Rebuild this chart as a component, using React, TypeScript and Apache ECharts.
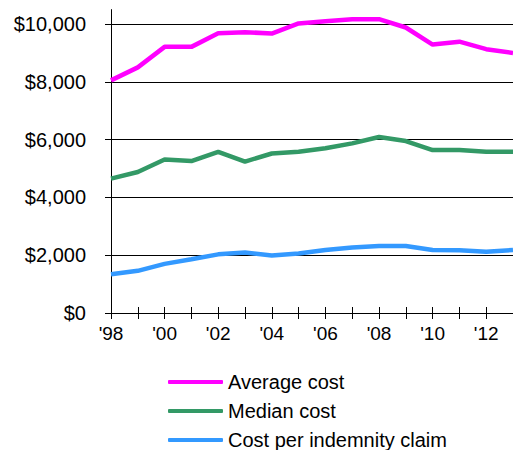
import React, { useEffect, useRef } from "react";
import * as echarts from "echarts";

const years = ["'98", "'99", "'00", "'01", "'02", "'03", "'04", "'05", "'06", "'07", "'08", "'09", "'10", "'11", "'12", "'13"];
const averageCost = [8050, 8500, 9210, 9210, 9680, 9720, 9670, 10020, 10100, 10170, 10170, 9880, 9290, 9390, 9130, 9000];
const medianCost = [4650, 4880, 5310, 5260, 5580, 5240, 5520, 5580, 5700, 5870, 6090, 5950, 5640, 5640, 5580, 5580];
const indemnityCost = [1340, 1460, 1700, 1860, 2030, 2090, 1990, 2060, 2180, 2270, 2320, 2320, 2180, 2170, 2120, 2180];
const yTicks = [0, 2000, 4000, 6000, 8000, 10000];
const seriesNames = ["Average cost", "Median cost", "Cost per indemnity claim"];
const colors = ["#FF00FF", "#339966", "#3399FF"];

const FONT = "'Liberation Sans', Arial, Helvetica, sans-serif";

export default function App() {
  const ref = useRef<HTMLDivElement>(null);
  useEffect(() => {
    if (!ref.current) return;
    const chart = echarts.init(ref.current, null, { renderer: "svg" });
    const values = [averageCost, medianCost, indemnityCost];
    chart.setOption({
      animation: false,
      backgroundColor: "#ffffff",
      textStyle: { fontFamily: FONT },
      grid: { left: 111, top: 9.6, width: 405, height: 303.4, containLabel: false },
      legend: {
        orient: "vertical",
        left: 168,
        top: 372,
        padding: 0,
        itemGap: 9,
        itemWidth: 55,
        itemHeight: 4,
        icon: "roundRect",
        data: seriesNames,
        textStyle: { fontFamily: FONT, fontSize: 20, color: "#000", lineHeight: 20 },
      },
      xAxis: [
        {
          type: "category",
          data: years,
          boundaryGap: false,
          position: "bottom",
          axisLine: { show: true, lineStyle: { color: "#000", width: 1 } },
          axisTick: { show: true, interval: 0, length: 6, lineStyle: { color: "#000", width: 1 } },
          axisLabel: { interval: 1, margin: 11, fontSize: 19, color: "#000", fontFamily: FONT },
          splitLine: { show: false },
        },
        {
          type: "category",
          data: years,
          boundaryGap: false,
          position: "bottom",
          offset: 0,
          axisLine: { show: false },
          axisTick: { show: true, inside: true, interval: 0, length: 6, lineStyle: { color: "#000", width: 1 } },
          axisLabel: { show: false },
          splitLine: { show: false },
        },
      ],
      yAxis: {
        type: "value",
        min: 0,
        max: 10500,
        interval: 2000,
        axisLine: { show: true, lineStyle: { color: "#000", width: 1 } },
        axisTick: { show: true, length: 6, customValues: yTicks, lineStyle: { color: "#000", width: 1 } },
        axisLabel: {
          customValues: yTicks,
          margin: 25,
          fontSize: 20,
          color: "#000",
          fontFamily: FONT,
          formatter: (v: number) => "$" + v.toLocaleString("en-US"),
        },
        splitLine: { show: true, lineStyle: { color: "#000", width: 1 } },
      },
      series: seriesNames.map((name, i) => ({
        name,
        type: "line",
        data: values[i],
        showSymbol: false,
        symbol: "none",
        smooth: false,
        itemStyle: { color: colors[i] },
        lineStyle: { color: colors[i], width: 4.5 },
      })),
    });
    return () => chart.dispose();
  }, []);
  return <div ref={ref} style={{ position: "fixed", left: 0, top: 0, width: 513, height: 450 }} />;
}
